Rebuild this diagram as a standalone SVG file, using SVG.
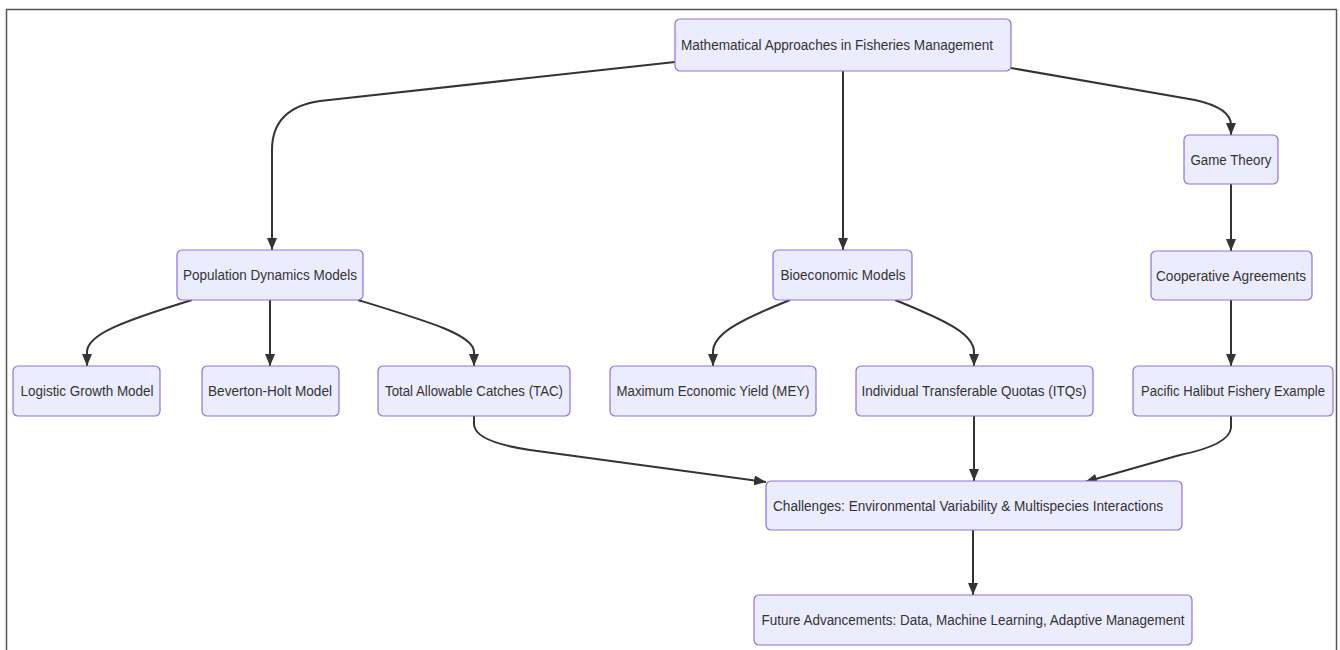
<svg xmlns="http://www.w3.org/2000/svg" width="1340" height="650" viewBox="0 0 1340 650">
<style>
.n rect{fill:#ECECFF;stroke:#9370DB;stroke-width:1.2}
.n text{font-family:"Liberation Sans",Arial,sans-serif;font-size:14px;fill:#333;text-anchor:middle;dominant-baseline:central}
.e path{fill:none;stroke:#333;stroke-width:2;marker-end:url(#ah)}
</style>
<defs>
<marker id="ah" viewBox="0 0 12 10" refX="12" refY="5" markerWidth="12" markerHeight="10" markerUnits="userSpaceOnUse" orient="auto">
<path d="M0,0 L12,5 L0,10 z" fill="#333"/>
</marker>
</defs>
<rect x="0" y="0" width="1340" height="650" fill="#fff"/>
<path d="M6.5,650 L6.5,9.5 L1336.5,9.5 L1336.5,650" fill="none" stroke="#555" stroke-width="1.5"/>
<g class="e">
<path d="M675,62 L320,101 Q272,108 272,150 L272,250"/>
<path d="M843,71 L843,250"/>
<path d="M1011,68 L1195,100 Q1231,108 1231,125 L1231,135"/>
<path d="M1231,184 L1231,251"/>
<path d="M192,300 C120,322 87,335 87,352 L87,366"/>
<path d="M270,300 L270,366"/>
<path d="M358,300 C430,322 474,335 474,352 L474,366"/>
<path d="M790,300 C735,322 713,335 713,352 L713,366"/>
<path d="M895,300 C950,322 974,335 974,352 L974,366"/>
<path d="M1231,300 L1231,366"/>
<path d="M474,416 L474,425 Q476,442 530,450 L766,482"/>
<path d="M974,416 L974,481"/>
<path d="M1231,416 L1231,428 Q1229,445 1180,455 L1085,482"/>
<path d="M973,530 L973,595"/>
</g>
<g id="n-main" class="n"><rect x="675" y="19" width="336" height="52" rx="5"/><text x="837" y="45" textLength="312" lengthAdjust="spacingAndGlyphs">Mathematical Approaches in Fisheries Management</text></g>
<g id="n-game" class="n"><rect x="1184" y="135" width="94" height="49" rx="5"/><text x="1231" y="160" textLength="81" lengthAdjust="spacingAndGlyphs">Game Theory</text></g>
<g id="n-coop" class="n"><rect x="1151" y="251" width="161" height="49" rx="5"/><text x="1231" y="276" textLength="150" lengthAdjust="spacingAndGlyphs">Cooperative Agreements</text></g>
<g id="n-pop" class="n"><rect x="177" y="250" width="186" height="50" rx="5"/><text x="270" y="275" textLength="174" lengthAdjust="spacingAndGlyphs">Population Dynamics Models</text></g>
<g id="n-bio" class="n"><rect x="773" y="250" width="139" height="50" rx="5"/><text x="843" y="275" textLength="125" lengthAdjust="spacingAndGlyphs">Bioeconomic Models</text></g>
<g id="n-log" class="n"><rect x="13" y="366" width="147" height="50" rx="5"/><text x="87" y="391" textLength="133" lengthAdjust="spacingAndGlyphs">Logistic Growth Model</text></g>
<g id="n-bev" class="n"><rect x="202" y="366" width="137" height="50" rx="5"/><text x="270" y="391" textLength="124" lengthAdjust="spacingAndGlyphs">Beverton-Holt Model</text></g>
<g id="n-tac" class="n"><rect x="378" y="366" width="192" height="50" rx="5"/><text x="474" y="391" textLength="178" lengthAdjust="spacingAndGlyphs">Total Allowable Catches (TAC)</text></g>
<g id="n-mey" class="n"><rect x="610" y="366" width="206" height="50" rx="5"/><text x="713" y="391" textLength="193" lengthAdjust="spacingAndGlyphs">Maximum Economic Yield (MEY)</text></g>
<g id="n-itq" class="n"><rect x="856" y="366" width="237" height="50" rx="5"/><text x="974" y="391" textLength="225" lengthAdjust="spacingAndGlyphs">Individual Transferable Quotas (ITQs)</text></g>
<g id="n-pac" class="n"><rect x="1133" y="366" width="200" height="50" rx="5"/><text x="1233" y="391" textLength="184" lengthAdjust="spacingAndGlyphs">Pacific Halibut Fishery Example</text></g>
<g id="n-chal" class="n"><rect x="766" y="481" width="416" height="49" rx="5"/><text x="968" y="506" textLength="390" lengthAdjust="spacingAndGlyphs">Challenges: Environmental Variability &amp; Multispecies Interactions</text></g>
<g id="n-fut" class="n"><rect x="754" y="595" width="438" height="50" rx="5"/><text x="973" y="620" textLength="423" lengthAdjust="spacingAndGlyphs">Future Advancements: Data, Machine Learning, Adaptive Management</text></g>
</svg>
